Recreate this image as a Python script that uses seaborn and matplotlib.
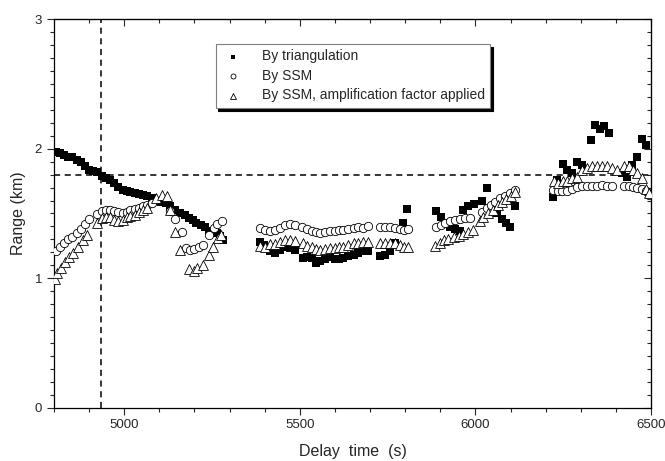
import seaborn as sns
import matplotlib.pyplot as plt
from matplotlib.ticker import MultipleLocator

# ---------------- DATA ----------------
tri_delay = [4806, 4817, 4828, 4840, 4852, 4865, 4876, 4888, 4901, 4912, 4923, 4936, 4947, 4960,
             4971, 4983, 4996, 5007, 5018, 5031, 5042, 5054, 5066, 5080, 5093, 5106, 5119, 5132,
             5145, 5159, 5172, 5185, 5195, 5206, 5218, 5230, 5242, 5252, 5263, 5273, 5282,
             5387, 5398, 5415, 5430, 5444, 5458, 5472, 5487, 5508, 5521, 5534, 5546, 5559, 5572,
             5586, 5600, 5612, 5624, 5638, 5653, 5667, 5681, 5693, 5729, 5743, 5757, 5771, 5795,
             5806,
             5888, 5902, 5914, 5928, 5942, 5957, 5966, 5980, 5995, 6019, 6033, 6061, 6075, 6088,
             6099, 6113,
             6221, 6232, 6249, 6262, 6275, 6289, 6303, 6329, 6341, 6355, 6367, 6381, 6417, 6431,
             6446, 6460, 6474, 6487]
tri_range = [1.975, 1.967, 1.953, 1.94, 1.936, 1.915, 1.894, 1.863, 1.832, 1.83, 1.822, 1.79, 1.773, 1.755,
             1.735, 1.708, 1.683, 1.67, 1.662, 1.657, 1.652, 1.642, 1.631, 1.62, 1.60, 1.59, 1.58, 1.554,
             1.528, 1.50, 1.485, 1.464, 1.451, 1.43, 1.412, 1.394, 1.368, 1.36, 1.348, 1.327, 1.296,
             1.283, 1.257, 1.206, 1.198, 1.219, 1.24, 1.232, 1.219, 1.155, 1.16, 1.155, 1.12, 1.136, 1.147,
             1.167, 1.147, 1.15, 1.155, 1.172, 1.18, 1.193, 1.206, 1.206, 1.172, 1.18, 1.206, 1.27, 1.425,
             1.536,
             1.52, 1.472, 1.43, 1.394, 1.38, 1.368, 1.528, 1.554, 1.575, 1.598, 1.696, 1.507, 1.456, 1.425,
             1.394, 1.554,
             1.626, 1.76, 1.884, 1.838, 1.812, 1.894, 1.876, 2.07, 2.186, 2.152, 2.172, 2.121, 1.812, 1.781,
             1.876, 1.94, 2.075, 2.031]

ssm_delay = [4806, 4817, 4828, 4841, 4852, 4865, 4876, 4888, 4901, 4923, 4936, 4947, 4960, 4971,
             4983, 4996, 5007, 5018, 5031, 5042, 5054, 5066, 5078, 5132, 5145, 5164, 5176, 5188,
             5199, 5212, 5225, 5242, 5255, 5263, 5278,
             5387, 5401, 5415, 5430, 5444, 5458, 5472, 5487, 5505, 5520, 5534, 5546, 5559, 5572,
             5586, 5600, 5612, 5624, 5638, 5653, 5667, 5681, 5693, 5729, 5743, 5757, 5771, 5786,
             5797, 5809,
             5888, 5902, 5914, 5928, 5942, 5957, 5971, 5985, 6019, 6033, 6044, 6056, 6071, 6085,
             6099, 6113,
             6221, 6234, 6246, 6260, 6275, 6289, 6303, 6317, 6331, 6346, 6360, 6374, 6389, 6422,
             6436, 6450, 6461, 6474, 6487, 6493]
ssm_range = [1.206, 1.244, 1.275, 1.30, 1.32, 1.348, 1.379, 1.42, 1.456, 1.497, 1.52, 1.528, 1.528, 1.52,
             1.515, 1.507, 1.515, 1.523, 1.534, 1.541, 1.554, 1.567, 1.58, 1.52, 1.456, 1.36, 1.23, 1.22,
             1.224, 1.237, 1.255, 1.335, 1.39, 1.42, 1.44,
             1.387, 1.374, 1.368, 1.374, 1.387, 1.412, 1.42, 1.412, 1.399, 1.38, 1.368, 1.353, 1.348, 1.36,
             1.368, 1.368, 1.37, 1.374, 1.379, 1.387, 1.394, 1.387, 1.404, 1.394, 1.394, 1.394, 1.387, 1.379,
             1.374, 1.379,
             1.394, 1.412, 1.425, 1.438, 1.451, 1.456, 1.461, 1.466, 1.515, 1.541, 1.567, 1.592, 1.619, 1.637,
             1.657, 1.683,
             1.683, 1.67, 1.67, 1.677, 1.688, 1.704, 1.714, 1.714, 1.714, 1.714, 1.722, 1.714, 1.714, 1.714,
             1.714, 1.704, 1.696, 1.688, 1.677, 1.644]

amp_delay = [4802, 4808, 4819, 4831, 4844, 4855, 4869, 4882, 4893, 4923, 4936, 4947, 4960, 4971,
             4983, 4996, 5007, 5018, 5031, 5042, 5054, 5066, 5090, 5107, 5121, 5132, 5145, 5159,
             5185, 5199, 5207, 5224, 5242, 5253, 5267, 5277,
             5387, 5401, 5415, 5430, 5444, 5458, 5472, 5487, 5510, 5522, 5534, 5546, 5559, 5572,
             5586, 5600, 5612, 5624, 5638, 5653, 5667, 5681, 5695, 5729, 5743, 5757, 5771, 5786,
             5797, 5809,
             5885, 5898, 5911, 5923, 5938, 5952, 5966, 5980, 5993, 6012, 6023, 6037, 6050, 6063,
             6075, 6088, 6101, 6113,
             6223, 6234, 6248, 6262, 6275, 6289, 6303, 6317, 6331, 6346, 6360, 6374, 6389, 6403,
             6422, 6436, 6450, 6461, 6474, 6487, 6493]
amp_range = [0.99, 1.043, 1.077, 1.128, 1.167, 1.193, 1.244, 1.296, 1.335, 1.425, 1.464, 1.472, 1.472, 1.451,
             1.438, 1.451, 1.472, 1.48, 1.49, 1.515, 1.528, 1.54, 1.619, 1.644, 1.631, 1.528, 1.36, 1.219,
             1.07, 1.059, 1.077, 1.103, 1.18, 1.244, 1.31, 1.335,
             1.25, 1.24, 1.265, 1.265, 1.283, 1.296, 1.296, 1.29, 1.27, 1.25, 1.24, 1.224, 1.214, 1.224,
             1.232, 1.232, 1.24, 1.244, 1.257, 1.27, 1.275, 1.283, 1.283, 1.27, 1.275, 1.275, 1.27, 1.257,
             1.244, 1.244,
             1.25, 1.275, 1.291, 1.30, 1.317, 1.327, 1.342, 1.353, 1.374, 1.438, 1.472, 1.502, 1.523, 1.567,
             1.592, 1.611, 1.631, 1.662,
             1.747, 1.735, 1.747, 1.747, 1.773, 1.781, 1.838, 1.851, 1.863, 1.863, 1.863, 1.863, 1.851, 1.838,
             1.863, 1.863, 1.838, 1.812, 1.773, 1.688, 1.657]

ref_range = 1.8
ref_delay = 4934

# ---------------- PLOT ----------------
sns.set_style("ticks")
plt.rcParams["font.family"] = ["Liberation Sans", "DejaVu Sans"]

fig = plt.figure(figsize=(6.65, 4.61), dpi=100)
ax = fig.add_axes([0.081, 0.116, 0.898, 0.842])

dash = (0, (4, 3))
ax.axhline(ref_range, color="black", lw=1.1, ls=dash, zorder=1)
ax.axvline(ref_delay, color="black", lw=1.1, ls=dash, zorder=1)

sns.scatterplot(x=tri_delay, y=tri_range, marker="s", s=26, color="black", edgecolor="black",
                linewidth=0, label="By triangulation", ax=ax, zorder=3)
sns.scatterplot(x=ssm_delay, y=ssm_range, marker="o", s=36, color="white", edgecolor="black",
                linewidth=0.6, label="By SSM", ax=ax, zorder=4)
sns.scatterplot(x=amp_delay, y=amp_range, marker="^", s=50, color="white", edgecolor="black",
                linewidth=0.6, label="By SSM, amplification factor applied", ax=ax, zorder=5)

ax.set_xlim(4800, 6500)
ax.set_ylim(0, 3)
ax.xaxis.set_major_locator(MultipleLocator(500))
ax.xaxis.set_minor_locator(MultipleLocator(100))
ax.yaxis.set_major_locator(MultipleLocator(1))
ax.yaxis.set_minor_locator(MultipleLocator(0.1))
ax.tick_params(which="both", direction="out", width=0.8, labelsize=9.5, top=False, right=False)
ax.tick_params(which="major", length=5)
ax.tick_params(which="minor", length=3)

for side in ["top", "bottom", "left", "right"]:
    ax.spines[side].set_visible(True)
    ax.spines[side].set_linewidth(0.9)
    ax.spines[side].set_color("black")

secx = ax.secondary_xaxis("top")
secx.xaxis.set_major_locator(MultipleLocator(500))
secx.xaxis.set_minor_locator(MultipleLocator(100))
secx.tick_params(which="both", direction="in", width=0.8, labeltop=False)
secx.tick_params(which="major", length=5)
secx.tick_params(which="minor", length=3)
secy = ax.secondary_yaxis("right")
secy.yaxis.set_major_locator(MultipleLocator(1))
secy.yaxis.set_minor_locator(MultipleLocator(0.1))
secy.tick_params(which="both", direction="in", width=0.8, labelright=False)
secy.tick_params(which="major", length=5)
secy.tick_params(which="minor", length=3)

ax.set_xlabel("Delay  time  (s)", fontsize=11.5, labelpad=9)
ax.set_ylabel("Range (km)", fontsize=11.5, labelpad=6)

leg = ax.legend(loc="upper left", bbox_to_anchor=(0.271, 0.937), borderaxespad=0,
                frameon=True, fancybox=False, shadow={"color": "black", "alpha": 1},
                fontsize=10, handlelength=1.65, handletextpad=1.26, borderpad=0.4,
                labelspacing=0.4, markerscale=0.6, framealpha=1)
leg.get_frame().set_edgecolor("gray")
leg.get_frame().set_linewidth(0.8)

fig.savefig("out.png", dpi=100)
